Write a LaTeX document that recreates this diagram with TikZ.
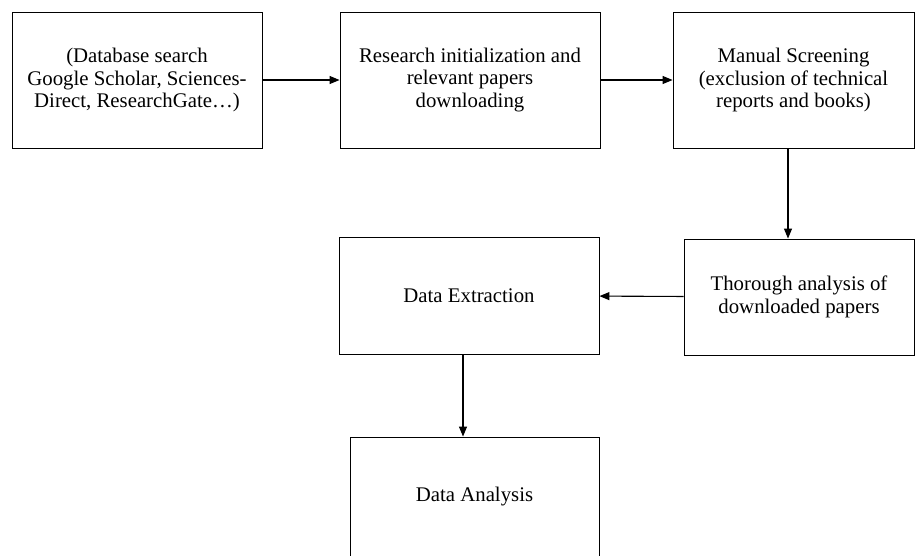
\documentclass[tikz,border=0pt]{standalone}
\usepackage{fontspec}
\setmainfont{Liberation Serif}
\usepackage{tikz}
\usetikzlibrary{arrows.meta}

\begin{document}
\begin{tikzpicture}[x=1pt,y=-1pt,
  box/.style={draw, line width=0.9pt, align=center, inner sep=0pt, font=\fontsize{20.8}{22.5}\selectfont},
  arr/.style={line width=1.1pt, -{Triangle[length=10pt,width=8pt]}}]
\useasboundingbox (0,0) rectangle (915,555);

\node[box, minimum width=250pt, minimum height=136pt] (search) at (137,80) {(Database search\\Google Scholar, Sciences-\\Direct, ResearchGate…)};
\node[box, minimum width=260pt, minimum height=136pt] (init) at (470,80) {Research initialization and\\relevant papers\\downloading};
\node[box, minimum width=241pt, minimum height=136pt] (screen) at (793.5,80) {Manual Screening\\(exclusion of technical\\reports and books)};

\node[box, minimum width=230pt, minimum height=116pt] (thorough) at (799,297) {Thorough analysis of\\downloaded papers};
\node[box, minimum width=260pt, minimum height=117pt] (extract) at (469,295.5) {Data Extraction};

\node[box, minimum width=249pt, minimum height=120pt] (analysis) at (474.5,497) {Data Analysis};

\draw[arr] (search) -- (init);
\draw[arr] (init) -- (screen);
\draw[arr] ([xshift=-5.5pt]screen.south) -- ([xshift=-11pt]thorough.north);
\draw[arr] (thorough) -- (extract);
\draw[arr] ([xshift=-6pt]extract.south) -- ([xshift=-6pt]extract.south |- analysis.north);

\end{tikzpicture}
\end{document}
